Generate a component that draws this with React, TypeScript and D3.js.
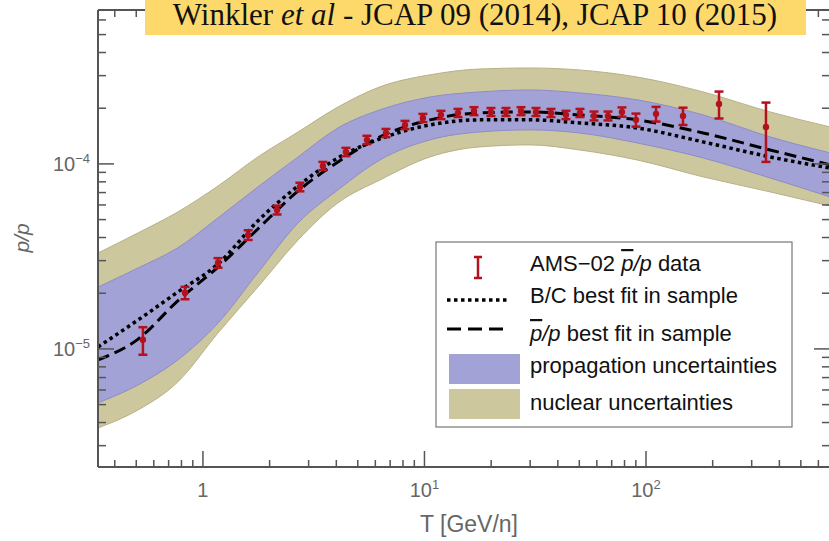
import React from "react";
import * as d3 from "d3";

// AMS-02 antiproton / proton ratio
const amsT = [0.536, 0.83, 1.17, 1.6, 2.16, 2.74, 3.48, 4.42, 5.5, 6.7, 8.17, 9.84, 11.87, 14.17, 16.73, 19.96, 23.33, 27.28, 31.87, 37.25, 43.53, 50.35, 58.26, 67.36, 77.9, 90.1, 111, 146.9, 213.6, 348];
const amsVal = [1.12e-5, 2.01e-5, 2.92e-5, 4.13e-5, 5.64e-5, 7.51e-5, 9.75e-5, 1.161e-4, 1.349e-4, 1.47e-4, 1.625e-4, 1.773e-4, 1.841e-4, 1.887e-4, 1.93e-4, 1.91e-4, 1.91e-4, 1.93e-4, 1.91e-4, 1.887e-4, 1.841e-4, 1.887e-4, 1.818e-4, 1.818e-4, 1.91e-4, 1.73e-4, 1.864e-4, 1.818e-4, 2.11e-4, 1.585e-4];
const amsErr = [0.19e-5, 0.155e-5, 0.175e-5, 0.25e-5, 0.31e-5, 0.4e-5, 0.5e-5, 0.6e-5, 0.7e-5, 0.75e-5, 0.83e-5, 0.9e-5, 0.95e-5, 0.95e-5, 0.95e-5, 0.95e-5, 0.95e-5, 0.95e-5, 0.95e-5, 0.95e-5, 0.95e-5, 0.95e-5, 1.0e-5, 1.0e-5, 1.1e-5, 1.4e-5, 1.7e-5, 1.95e-5, 3.5e-5, 5.6e-5];

// curves sampled on a common energy grid
const gridT = [0.336, 0.51, 0.77, 1.17, 1.77, 2.69, 4.07, 6.3, 10.6, 17.8, 30, 50, 91, 181, 363, 677];
const nuclearUpper = [3.3e-5, 4.24e-5, 5.5e-5, 7.6e-5, 1.091e-4, 1.489e-4, 2.03e-4, 2.61e-4, 3.03e-4, 3.26e-4, 3.3e-4, 3.22e-4, 2.95e-4, 2.45e-4, 1.91e-4, 1.585e-4];
const nuclearLower = [3.74e-6, 4.68e-6, 6.63e-6, 1.22e-5, 2.16e-5, 3.88e-5, 6.16e-5, 8.19e-5, 1.091e-4, 1.236e-4, 1.267e-4, 1.19e-4, 1.051e-4, 8.51e-5, 7.06e-5, 5.93e-5];
const propUpper = [2.16e-5, 2.74e-5, 3.52e-5, 5.11e-5, 7.51e-5, 1.091e-4, 1.565e-4, 1.96e-4, 2.3e-4, 2.45e-4, 2.51e-4, 2.42e-4, 2.22e-4, 1.84e-4, 1.4e-4, 1.147e-4];
const propLower = [5.11e-6, 6.39e-6, 8.72e-6, 1.38e-5, 2.58e-5, 4.8e-5, 7.24e-5, 1.051e-4, 1.349e-4, 1.489e-4, 1.527e-4, 1.47e-4, 1.299e-4, 1.077e-4, 8.4e-5, 6.63e-5];
const bcFit = [1.025e-5, 1.435e-5, 2.03e-5, 2.88e-5, 4.92e-5, 7.6e-5, 1.077e-4, 1.365e-4, 1.625e-4, 1.73e-4, 1.73e-4, 1.666e-4, 1.565e-4, 1.315e-4, 1.091e-4, 9.5e-5];
const pbarFit = [8.72e-6, 1.13e-5, 1.82e-5, 2.77e-5, 4.45e-5, 7.15e-5, 1.025e-4, 1.4e-4, 1.73e-4, 1.887e-4, 1.91e-4, 1.84e-4, 1.73e-4, 1.47e-4, 1.19e-4, 9.9e-5];

const xTickLabels = [
  { v: 1, base: "1", sup: "" },
  { v: 10, base: "10", sup: "1" },
  { v: 100, base: "10", sup: "2" },
];
const yTickLabels = [
  { v: 1e-5, base: "10", sup: "\u22125" },
  { v: 1e-4, base: "10", sup: "\u22124" },
];

const W = 829, H = 541;
const left = 98, right = 830, top = 10, bottom = 467;

const TAN = "#cdc79d";
const TAN_EDGE = "#b8b187";
const BLUE = "#a3a2d6";
const BLUE_EDGE = "#8e8cc7";
const RED = "#b3121c";
const AXIS = "#555";
const SANS = "'Liberation Sans', Arial, sans-serif";

export default function App() {
  const x = d3.scaleLog().domain([0.336, 677]).range([left, right]);
  const y = d3.scaleLog().domain([2.3e-6, 6.79e-4]).range([bottom, top]);

  const idx = gridT.map((_, i) => i);
  const area = (lo: number[], hi: number[]) =>
    d3.area<number>()
      .x((i) => x(gridT[i]))
      .y0((i) => y(lo[i]))
      .y1((i) => y(hi[i]))
      .curve(d3.curveMonotoneX)(idx) as string;
  const line = (vals: number[]) =>
    d3.line<number>()
      .x((i) => x(gridT[i]))
      .y((i) => y(vals[i]))
      .curve(d3.curveMonotoneX)(idx) as string;

  // log ticks
  const xTicks: { v: number; major: boolean }[] = [];
  for (let e = -1; e <= 2; e++)
    for (let k = 1; k <= 9; k++) {
      const v = k * Math.pow(10, e);
      if (v >= 0.336 && v <= 677) xTicks.push({ v, major: k === 1 });
    }
  const yTicks: { v: number; major: boolean }[] = [];
  for (let e = -6; e <= -4; e++)
    for (let k = 1; k <= 9; k++) {
      const v = k * Math.pow(10, e);
      if (v >= 2.3e-6 && v <= 6.79e-4) yTicks.push({ v, major: k === 1 });
    }

  const legendX = 436, legendY = 242;

  return (
    <svg width={W} height={H} style={{ position: "absolute", left: 0, top: 0 }}>
      <defs>
        <clipPath id="plot">
          <rect x={left} y={top} width={right - left} height={bottom - top} />
        </clipPath>
      </defs>
      <rect width={W} height={H} fill="white" />

      {/* Bandas */}
      <g clipPath="url(#plot)">
        <path d={area(nuclearLower, nuclearUpper)} fill={TAN} stroke={TAN_EDGE} strokeWidth={1} />
        <path d={area(propLower, propUpper)} fill={BLUE} stroke={BLUE_EDGE} strokeWidth={1} />
        <path d={line(bcFit)} fill="none" stroke="black" strokeWidth={3.5} strokeDasharray="3.5,3.5" />
        <path d={line(pbarFit)} fill="none" stroke="black" strokeWidth={3} strokeDasharray="12,6" />

        {/* Datos */}
        {amsT.map((t, i) => {
          const cx = x(t);
          const y1 = y(amsVal[i] + amsErr[i]);
          const y0 = y(amsVal[i] - amsErr[i]);
          return (
            <g key={i} stroke={RED} strokeWidth={2.5}>
              <line x1={cx} x2={cx} y1={y0} y2={y1} />
              <line x1={cx - 4.5} x2={cx + 4.5} y1={y0} y2={y0} />
              <line x1={cx - 4.5} x2={cx + 4.5} y1={y1} y2={y1} />
              <circle cx={cx} cy={y(amsVal[i])} r={3.2} fill={RED} stroke="none" />
            </g>
          );
        })}
      </g>

      {/* Marco */}
      <g stroke={AXIS} strokeWidth={2} fill="none">
        <line x1={left} x2={right} y1={bottom} y2={bottom} />
        <line x1={left} x2={right} y1={top} y2={top} />
        <line x1={left} x2={left} y1={top} y2={bottom} />
        <line x1={right} x2={right} y1={top} y2={bottom} />
      </g>
      <g stroke={AXIS} strokeWidth={1.5}>
        {xTicks.map((t, i) => {
          const len = t.major ? 16 : 7;
          return (
            <g key={i}>
              <line x1={x(t.v)} x2={x(t.v)} y1={bottom} y2={bottom - len} />
              <line x1={x(t.v)} x2={x(t.v)} y1={top} y2={top + len} />
            </g>
          );
        })}
        {yTicks.map((t, i) => {
          const len = t.major ? 16 : 8;
          return (
            <g key={i}>
              <line x1={left} x2={left + len} y1={y(t.v)} y2={y(t.v)} />
              <line x1={right} x2={right - len} y1={y(t.v)} y2={y(t.v)} />
            </g>
          );
        })}
      </g>

      {/* Etiquetas de ejes */}
      <g fill="#666" fontFamily={SANS} fontSize={20}>
        {xTickLabels.map((t, i) => (
          <text key={i} x={x(t.v)} y={497} textAnchor="middle">
            {t.base}
            {t.sup && <tspan fontSize={13} dy={-8}>{t.sup}</tspan>}
          </text>
        ))}
        {yTickLabels.map((t, i) => (
          <text key={i} x={90} y={y(t.v) + 7} textAnchor="end">
            {t.base}
            <tspan fontSize={13} dy={-8}>{t.sup}</tspan>
          </text>
        ))}
        <text x={469} y={532} textAnchor="middle" fontSize={23}>
          T [GeV/n]
        </text>
        <text
          transform={`translate(29, ${238}) rotate(-90)`}
          textAnchor="middle"
          fontSize={21}
          fontStyle="italic"
        >
          p/p
        </text>
      </g>

      {/* Leyenda */}
      <g fontFamily={SANS} fontSize={22} fill="#111">
        <rect x={legendX} y={legendY} width={356} height={185} fill="white" stroke="#777" strokeWidth={1.2} />
        <g stroke={RED} strokeWidth={2.5}>
          <line x1={478} x2={478} y1={257} y2={278} />
          <line x1={474} x2={482} y1={257} y2={257} />
          <line x1={474} x2={482} y1={278} y2={278} />
        </g>
        <line x1={447} x2={509} y1={300} y2={300} stroke="black" strokeWidth={3.5} strokeDasharray="3.5,3.5" />
        <line x1={447} x2={509} y1={329} y2={329} stroke="black" strokeWidth={3} strokeDasharray="14,7" />
        <rect x={449} y={354} width={71} height={30} fill={BLUE} />
        <rect x={449} y={389} width={71} height={30} fill={TAN} />
        <text x={530} y={271}>
          AMS{"\u2212"}02{" "}
          <tspan fontStyle="italic" textDecoration="overline">p</tspan>
          <tspan fontStyle="italic">/p</tspan> data
        </text>
        <text x={530} y={303}>B/C best fit in sample</text>
        <text x={530} y={341}>
          <tspan fontStyle="italic" textDecoration="overline">p</tspan>
          <tspan fontStyle="italic">/p</tspan> best fit in sample
        </text>
        <text x={530} y={373}>propagation uncertainties</text>
        <text x={530} y={410}>nuclear uncertainties</text>
      </g>

      {/* Título */}
      <rect x={145} y={0} width={661} height={35} fill="#fdd96c" />
      <text x={475} y={25} textAnchor="middle" fontFamily="'Liberation Serif', 'Times New Roman', serif" fontSize={31} fill="#111">
        Winkler <tspan fontStyle="italic">et al</tspan> - JCAP 09 (2014), JCAP 10 (2015)
      </text>
    </svg>
  );
}
